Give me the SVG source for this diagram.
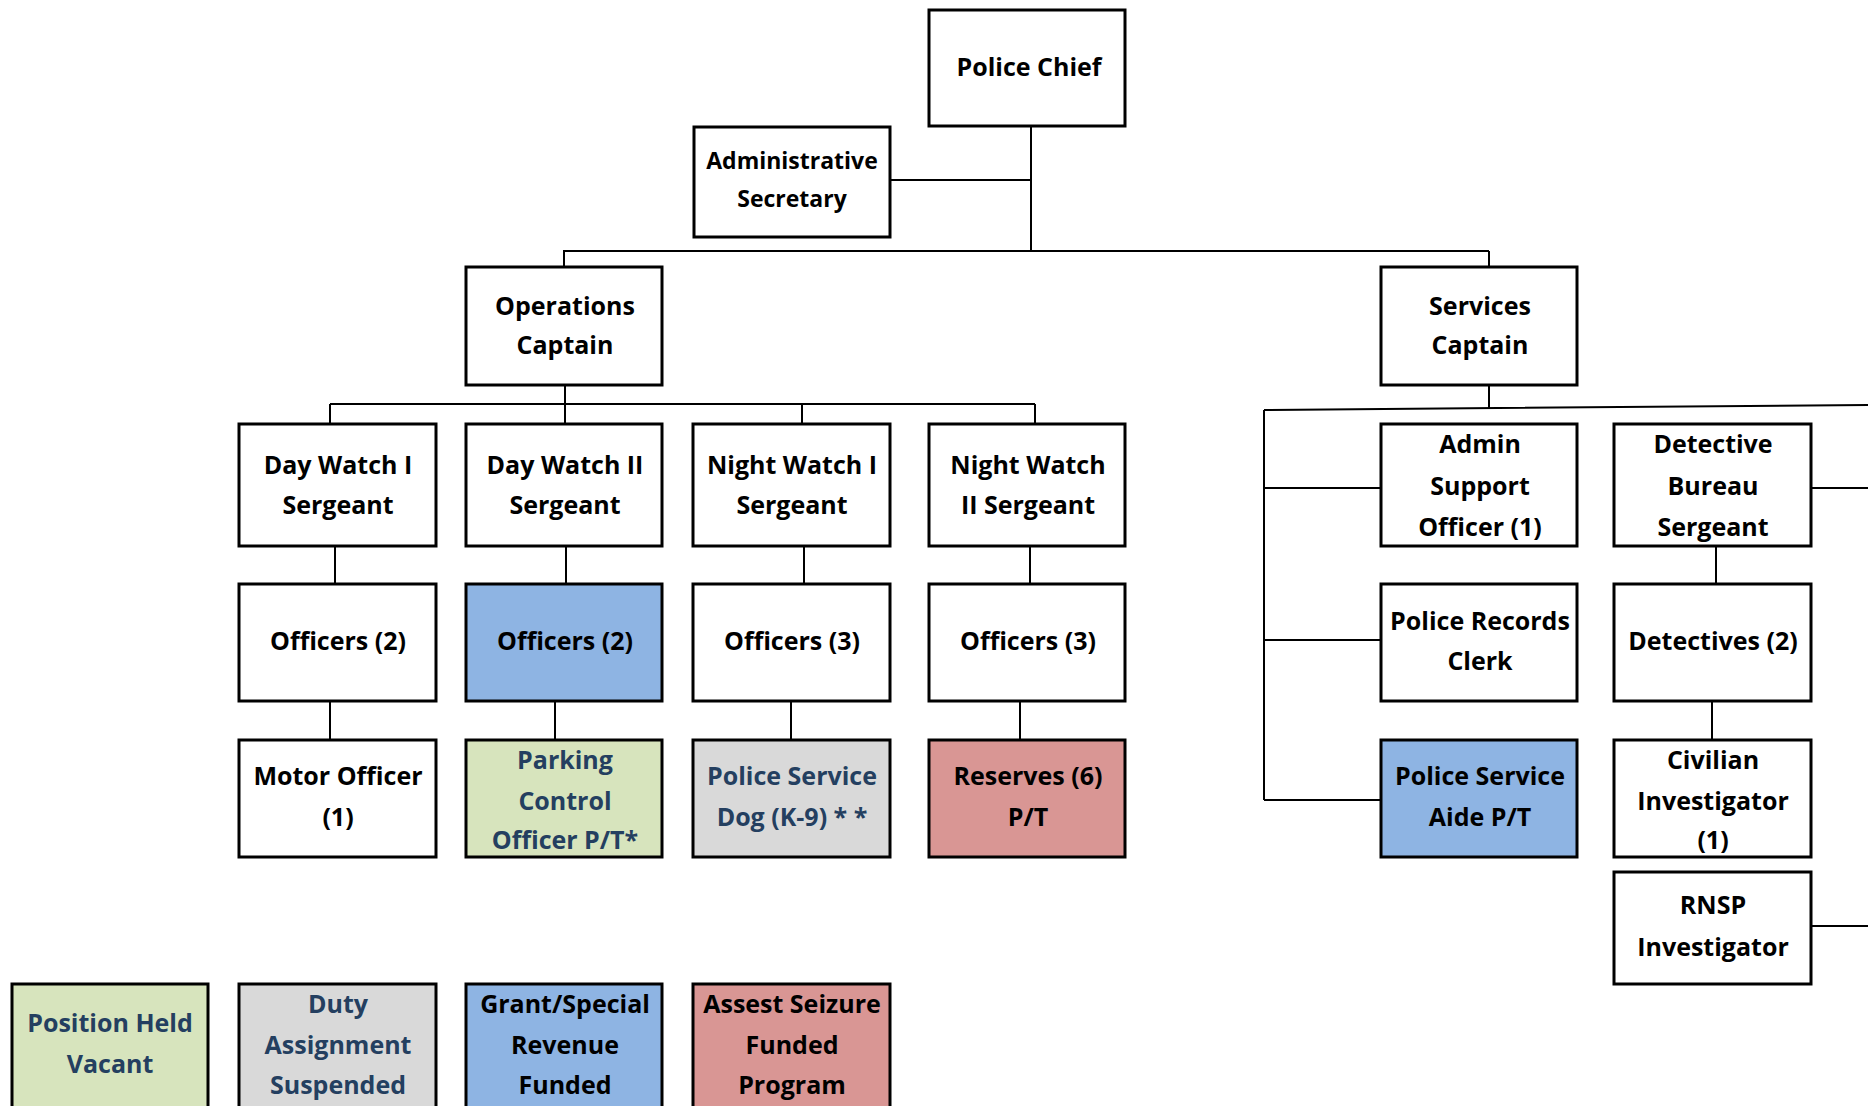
<svg xmlns="http://www.w3.org/2000/svg" width="1868" height="1106" viewBox="0 0 1868 1106">
<style>
.box{fill:#fff;stroke:#000;stroke-width:3}
.g{fill:#D7E4BD}.s{fill:#D9D9D9}.b{fill:#8EB4E3}.r{fill:#D99694}
.t{font-family:"Open Sans","Liberation Sans",sans-serif;font-weight:700;font-size:25px;text-anchor:middle;fill:#000}
.n{fill:#243F60}
.c{stroke:#000;stroke-width:2;fill:none}
</style>
<rect width="1868" height="1106" fill="#fff"/>
<g id="connectors">
<path class="c" d="M1031 126V252M890 180H1032M563 251H1489M564 251V267M1489 251V267"/>
<path class="c" d="M565 385V404M330 404H1035M330 404V424M565 404V424M802 404V424M1035 404V424"/>
<path class="c" d="M335 546V584M566 546V584M804 546V584M1030 546V584"/>
<path class="c" d="M330 701V740M555 701V740M791 701V740M1020 701V740"/>
<path class="c" d="M1489 385V409M1264 410L1868 405M1264 410V800M1264 488H1381M1264 640H1381M1264 800H1381"/>
<path class="c" d="M1811 488H1868M1716 546V584M1712 701V740M1811 926H1868"/>
</g>
<g id="chief"><rect class="box" x="929" y="10" width="196" height="116"/><text class="t" x="1029" y="76">Police Chief</text></g>
<g id="admin-secretary"><rect class="box" x="694" y="127" width="196" height="110"/><text class="t" x="792" y="169" style="font-size:23px">Administrative</text><text class="t" x="792" y="207" style="font-size:23px">Secretary</text></g>
<g id="ops-captain"><rect class="box" x="466" y="267" width="196" height="118"/><text class="t" x="565" y="315">Operations</text><text class="t" x="565" y="354">Captain</text></g>
<g id="services-captain"><rect class="box" x="1381" y="267" width="196" height="118"/><text class="t" x="1480" y="315">Services</text><text class="t" x="1480" y="354">Captain</text></g>
<g id="day-watch-1"><rect class="box" x="239" y="424" width="197" height="122"/><text class="t" x="338" y="474">Day Watch I</text><text class="t" x="338" y="514">Sergeant</text></g>
<g id="day-watch-2"><rect class="box" x="466" y="424" width="196" height="122"/><text class="t" x="565" y="474">Day Watch II</text><text class="t" x="565" y="514">Sergeant</text></g>
<g id="night-watch-1"><rect class="box" x="693" y="424" width="197" height="122"/><text class="t" x="792" y="474">Night Watch I</text><text class="t" x="792" y="514">Sergeant</text></g>
<g id="night-watch-2"><rect class="box" x="929" y="424" width="196" height="122"/><text class="t" x="1028" y="474">Night Watch</text><text class="t" x="1028" y="514">II Sergeant</text></g>
<g id="officers-1"><rect class="box" x="239" y="584" width="197" height="117"/><text class="t" x="338" y="650">Officers (2)</text></g>
<g id="officers-2"><rect class="box b" x="466" y="584" width="196" height="117"/><text class="t" x="565" y="650">Officers (2)</text></g>
<g id="officers-3"><rect class="box" x="693" y="584" width="197" height="117"/><text class="t" x="792" y="650">Officers (3)</text></g>
<g id="officers-4"><rect class="box" x="929" y="584" width="196" height="117"/><text class="t" x="1028" y="650">Officers (3)</text></g>
<g id="motor-officer"><rect class="box" x="239" y="740" width="197" height="117"/><text class="t" x="338" y="785">Motor Officer</text><text class="t" x="338" y="826">(1)</text></g>
<g id="parking-control"><rect class="box g" x="466" y="740" width="196" height="117"/><text class="t n" x="565" y="769">Parking</text><text class="t n" x="565" y="810">Control</text><text class="t n" x="565" y="849">Officer P/T*</text></g>
<g id="police-dog"><rect class="box s" x="693" y="740" width="197" height="117"/><text class="t n" x="792" y="785">Police Service</text><text class="t n" x="792" y="826">Dog (K-9) * *</text></g>
<g id="reserves"><rect class="box r" x="929" y="740" width="196" height="117"/><text class="t" x="1028" y="785">Reserves (6)</text><text class="t" x="1028" y="826">P/T</text></g>
<g id="admin-support"><rect class="box" x="1381" y="424" width="196" height="122"/><text class="t" x="1480" y="453">Admin</text><text class="t" x="1480" y="495">Support</text><text class="t" x="1480" y="536">Officer (1)</text></g>
<g id="detective-bureau"><rect class="box" x="1614" y="424" width="197" height="122"/><text class="t" x="1713" y="453">Detective</text><text class="t" x="1713" y="495">Bureau</text><text class="t" x="1713" y="536">Sergeant</text></g>
<g id="records-clerk"><rect class="box" x="1381" y="584" width="196" height="117"/><text class="t" x="1480" y="630">Police Records</text><text class="t" x="1480" y="670">Clerk</text></g>
<g id="detectives"><rect class="box" x="1614" y="584" width="197" height="117"/><text class="t" x="1713" y="650">Detectives (2)</text></g>
<g id="service-aide"><rect class="box b" x="1381" y="740" width="196" height="117"/><text class="t" x="1480" y="785">Police Service</text><text class="t" x="1480" y="826">Aide P/T</text></g>
<g id="civilian-investigator"><rect class="box" x="1614" y="740" width="197" height="117"/><text class="t" x="1713" y="769">Civilian</text><text class="t" x="1713" y="810">Investigator</text><text class="t" x="1713" y="849">(1)</text></g>
<g id="rnsp-investigator"><rect class="box" x="1614" y="872" width="197" height="112"/><text class="t" x="1713" y="914">RNSP</text><text class="t" x="1713" y="956">Investigator</text></g>
<g id="legend-vacant"><rect class="box g" x="12" y="984" width="196" height="140"/><text class="t n" x="110" y="1032">Position Held</text><text class="t n" x="110" y="1073">Vacant</text></g>
<g id="legend-suspended"><rect class="box s" x="239" y="984" width="197" height="140"/><text class="t n" x="338" y="1013">Duty</text><text class="t n" x="338" y="1054">Assignment</text><text class="t n" x="338" y="1094">Suspended</text></g>
<g id="legend-grant"><rect class="box b" x="466" y="984" width="196" height="140"/><text class="t" x="565" y="1013">Grant/Special</text><text class="t" x="565" y="1054">Revenue</text><text class="t" x="565" y="1094">Funded</text></g>
<g id="legend-seizure"><rect class="box r" x="693" y="984" width="197" height="140"/><text class="t" x="792" y="1013">Assest Seizure</text><text class="t" x="792" y="1054">Funded</text><text class="t" x="792" y="1094">Program</text></g>
</svg>
